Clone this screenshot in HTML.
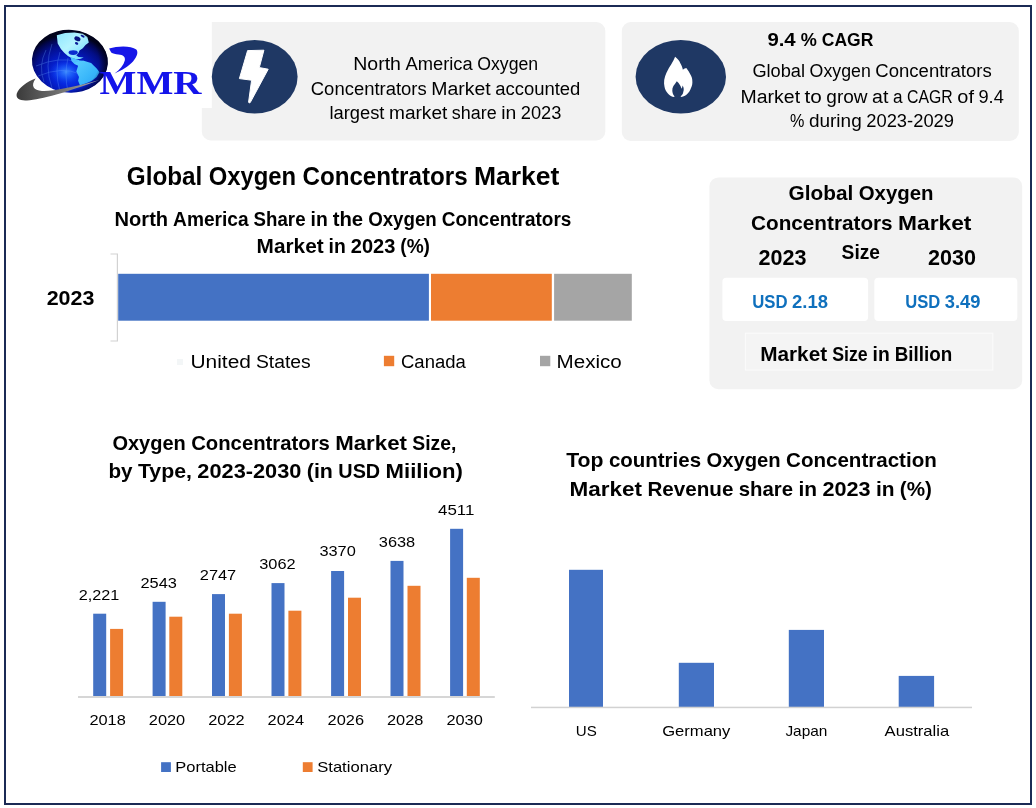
<!DOCTYPE html>
<html lang="en">
<head>
<meta charset="utf-8">
<title>Global Oxygen Concentrators Market</title>
<style>
  html, body { margin: 0; padding: 0; background: #ffffff; }
  body { width: 1036px; height: 808px; overflow: hidden; position: relative; }
  svg { position: absolute; left: 0; top: 0; display: block; }
  text { font-family: "Liberation Sans", sans-serif; fill: #000000; }
  .b { font-weight: bold; }
  .serif { font-family: "Liberation Serif", serif; font-weight: bold; }
</style>
</head>
<body>
<svg width="1036" height="808" viewBox="0 0 1036 808">
  <defs>
    <radialGradient id="globeG" cx="0.50" cy="0.68" r="0.60" fx="0.49" fy="0.72">
      <stop offset="0" stop-color="#0d48f2"/>
      <stop offset="0.28" stop-color="#0628e0"/>
      <stop offset="0.52" stop-color="#0418b8"/>
      <stop offset="0.75" stop-color="#030e88"/>
      <stop offset="0.9" stop-color="#020650"/>
      <stop offset="1" stop-color="#01031c"/>
    </radialGradient>
    <radialGradient id="glowG" cx="0.5" cy="0.5" r="0.5">
      <stop offset="0" stop-color="#3c8cff" stop-opacity="0.95"/>
      <stop offset="0.5" stop-color="#1c5cf8" stop-opacity="0.6"/>
      <stop offset="1" stop-color="#0a30e0" stop-opacity="0"/>
    </radialGradient>
    <radialGradient id="rimG" cx="0.40" cy="0.50" r="0.62">
      <stop offset="0" stop-color="#000010" stop-opacity="0"/>
      <stop offset="0.78" stop-color="#000010" stop-opacity="0"/>
      <stop offset="0.92" stop-color="#000018" stop-opacity="0.55"/>
      <stop offset="1" stop-color="#000010" stop-opacity="0.9"/>
    </radialGradient>
    <linearGradient id="landG2" x1="0" y1="0" x2="1" y2="1">
      <stop offset="0" stop-color="#5ccfff"/>
      <stop offset="0.6" stop-color="#38b6fa"/>
      <stop offset="1" stop-color="#2a9cf0"/>
    </linearGradient>
    <linearGradient id="landG" x1="0" y1="0" x2="1" y2="1">
      <stop offset="0" stop-color="#8fe6ff"/>
      <stop offset="0.45" stop-color="#b4f4ff"/>
      <stop offset="1" stop-color="#62d2ff"/>
    </linearGradient>
    <linearGradient id="swooshG" x1="0" y1="0" x2="1" y2="0">
      <stop offset="0" stop-color="#3a3a3a"/>
      <stop offset="0.45" stop-color="#6a6a6a"/>
      <stop offset="1" stop-color="#a8a8a8"/>
    </linearGradient>
    <clipPath id="globeClip"><ellipse cx="69.9" cy="61.3" rx="38" ry="31.4" transform="rotate(4 69.9 61.3)"/></clipPath>
  </defs>

  <!-- page background + frame -->
  <rect x="0" y="0" width="1036" height="808" fill="#ffffff"/>
  <rect x="5" y="6" width="1026" height="798" fill="none" stroke="#1b2a55" stroke-width="2"/>

  <!-- ===== top card 1 ===== -->
  <rect x="201.8" y="22" width="403.5" height="118.5" rx="9" ry="9" fill="#f2f2f2"/>
  <!-- logo white backing -->
  <rect x="8" y="10" width="203.8" height="98" fill="#ffffff"/>

  <!-- ===== logo ===== -->
  <g id="logo">
    <ellipse cx="69.9" cy="61.3" rx="38" ry="31.4" transform="rotate(4 69.9 61.3)" fill="url(#globeG)"/>
    <g clip-path="url(#globeClip)">
      <!-- glow -->
      <ellipse cx="66" cy="72" rx="17" ry="12" fill="url(#glowG)"/>
      <!-- north america -->
      <path d="M56.8 35.2 L65.1 32.9 L74.4 32.4 L82.8 33.8 L87.4 37.1 L88.8 42.6 L85.5 45 L82.8 48.2 L79.5 50.5 L78.6 52.8 L76.3 55.6 L78.6 57 L83.7 57.5 L80 58.9 L76.3 59.3 L71.6 57.9 L67.9 56.1 L64.2 52.8 L60.9 49.1 L57.7 43.6 Z" fill="url(#landG)"/>
      <!-- central america -->
      <path d="M70.5 57 L76.3 59.3 L80 60.5 L83.7 60.7 L78.5 63.6 L74.4 64 L71.5 61 Z" fill="#4cc4ff"/>
      <!-- south america -->
      <path d="M76.3 62.1 L83.7 60.7 L91.1 63.1 L96.7 68.6 L99.5 72.3 L96.7 77 L92 80.7 L87.4 82.8 L80 85.6 L78.1 80.7 L79 77 L76.3 71.4 L78.1 65.8 L74.4 64 Z" fill="url(#landG2)"/>
      <!-- dark lakes / bays -->
      <ellipse cx="73.2" cy="52.6" rx="4.6" ry="2.4" fill="#0a2cd0"/>
      <ellipse cx="77.4" cy="38.8" rx="3.2" ry="2.2" fill="#071480" transform="rotate(25 77.4 38.8)"/>
      <ellipse cx="76.6" cy="43.4" rx="1.8" ry="1.2" fill="#0a1c98" transform="rotate(30 76.6 43.4)"/>
      <ellipse cx="82.6" cy="36.2" rx="2.2" ry="1" fill="#0a1c98" transform="rotate(30 82.6 36.2)"/>
      <!-- grid lines -->
      <g fill="none" stroke="#6aa8ff" stroke-width="0.6" opacity="0.5">
        <path d="M36 66 Q60 56 78 62"/>
        <path d="M38 76 Q62 66 80 74"/>
        <path d="M52 44 Q44 66 52 88"/>
        <path d="M60 52 Q54 70 60 92"/>
        <path d="M68 58 Q64 74 68 92"/>
        <path d="M46 50 Q38 66 44 82"/>
      </g>
      <!-- dark rim on right -->
      <ellipse cx="69.9" cy="61.3" rx="38" ry="31.4" transform="rotate(4 69.9 61.3)" fill="url(#rimG)"/>
    </g>
    <!-- grey swoosh -->
    <path d="M35.6 78.6 C27 81.6 19 87.6 16.8 93.6 C15.4 98.6 20 101 27 100.5 C42 99.6 66 92.6 99.6 80.1 C72 87.6 52 91.6 42 91 C33.5 90.4 30.4 86 35.6 78.6 Z" fill="url(#swooshG)"/>
    <!-- blue swoosh -->
    <path d="M109.1 48.6 C118 45.6 131 45.4 136.3 49.6 C138.4 52 137.4 56.6 133 61.5 C128.5 66.3 121.5 70.8 114.6 73.4 C120 69.4 123.6 65.2 124.8 60.4 C125.6 56.6 123 54.8 118.5 54.4 C115.5 54.1 112.8 53.6 111.2 52.4 Z" fill="#1616e8"/>
    <text class="serif" x="99.6" y="94.3" font-size="32.8" textLength="102" lengthAdjust="spacingAndGlyphs" style="fill:#1414ea">MMR</text>
  </g>

  <!-- icon 1 : lightning -->
  <ellipse cx="254.7" cy="76.7" rx="42.9" ry="36.8" fill="#1f3864"/>
  <path d="M247.6 50.6 L263.9 50.2 L259.3 67.6 L268.2 69.2 L250.2 102.6 Q249 103.6 248.6 102 L251.6 80.2 L239.4 78.6 Z" fill="#ffffff" stroke="#ffffff" stroke-width="1" stroke-linejoin="round"/>

  <text y="69.8" font-size="17.6"><tspan x="353.20" textLength="47.73" lengthAdjust="spacingAndGlyphs">North</tspan> <tspan x="405.46" textLength="67.25" lengthAdjust="spacingAndGlyphs">America</tspan> <tspan x="477.24" textLength="60.96" lengthAdjust="spacingAndGlyphs">Oxygen</tspan></text>
  <text y="95" font-size="17.6"><tspan x="310.80" textLength="115.93" lengthAdjust="spacingAndGlyphs">Concentrators</tspan> <tspan x="431.25" textLength="59.42" lengthAdjust="spacingAndGlyphs">Market</tspan> <tspan x="495.19" textLength="85.21" lengthAdjust="spacingAndGlyphs">accounted</tspan></text>
  <text y="119.2" font-size="17.6"><tspan x="329.40" textLength="55.06" lengthAdjust="spacingAndGlyphs">largest</tspan> <tspan x="388.99" textLength="58.33" lengthAdjust="spacingAndGlyphs">market</tspan> <tspan x="451.83" textLength="44.86" lengthAdjust="spacingAndGlyphs">share</tspan> <tspan x="501.21" textLength="15.09" lengthAdjust="spacingAndGlyphs">in</tspan> <tspan x="520.82" textLength="40.58" lengthAdjust="spacingAndGlyphs">2023</tspan></text>

  <!-- ===== top card 2 ===== -->
  <rect x="621.8" y="22" width="397" height="119" rx="9" ry="9" fill="#f2f2f2"/>
  <ellipse cx="680.8" cy="76.7" rx="45.2" ry="36.8" fill="#1f3864"/>
  <!-- flame -->
  <path d="M675.1 56.8 C677.5 58.6 679.4 61 680.2 62.9 C681.6 65.2 682.5 67.6 682.9 69.7 C684 68.8 685.4 68.2 686.3 68 C688 70 689.4 72.2 690.4 74.5 C691.6 76.6 692.3 78.6 692.3 80.6 C692.6 83.4 692.2 86 691 88.1 C690 91 688.6 93 687 94.2 C685.4 95.6 683.6 96.5 681.5 96.9 L680.5 96.3 C682 95.2 683 93.8 683.2 92.2 C683.8 90.8 683.9 89.4 683.6 88.1 C683.4 87 683.1 86.1 682.6 85.4 C682.4 86.8 682 87.9 681.5 88.8 C681.2 87.5 680.8 86.4 680.2 85.4 C679.2 83.8 678 82.4 676.8 81.3 C675.8 83 674.4 84.6 673.4 86.1 C672.6 87.6 672.2 89.2 672.3 90.8 C672.4 93 673.2 95 674.7 96.6 L673.4 96.9 C671.4 96.4 669.4 95.2 667.9 93.5 C666.2 91.6 665 89.4 664.5 86.7 C664 84.4 663.9 82.2 664.2 79.9 C664.6 77.2 665.4 74.8 666.6 72.4 C668 69.4 669.8 66.8 671.3 64.3 C672.8 61.8 674.2 59.4 675.1 56.8 Z" fill="#ffffff"/>

  <text class="b" y="46.4" font-size="19"><tspan x="767.40" textLength="28.31" lengthAdjust="spacingAndGlyphs">9.4</tspan> <tspan x="800.70" textLength="16.11" lengthAdjust="spacingAndGlyphs">%</tspan> <tspan x="821.80" textLength="51.60" lengthAdjust="spacingAndGlyphs">CAGR</tspan></text>
  <text y="77.3" font-size="17.6"><tspan x="752.40" textLength="52.66" lengthAdjust="spacingAndGlyphs">Global</tspan> <tspan x="809.61" textLength="61.15" lengthAdjust="spacingAndGlyphs">Oxygen</tspan> <tspan x="875.30" textLength="116.50" lengthAdjust="spacingAndGlyphs">Concentrators</tspan></text>
  <text y="102.7" font-size="17.6"><tspan x="740.60" textLength="59.45" lengthAdjust="spacingAndGlyphs">Market</tspan> <tspan x="804.57" textLength="17.25" lengthAdjust="spacingAndGlyphs">to</tspan> <tspan x="826.34" textLength="41.26" lengthAdjust="spacingAndGlyphs">grow</tspan> <tspan x="872.12" textLength="16.29" lengthAdjust="spacingAndGlyphs">at</tspan> <tspan x="892.93" textLength="9.58" lengthAdjust="spacingAndGlyphs">a</tspan> <tspan x="907.04" textLength="45.74" lengthAdjust="spacingAndGlyphs">CAGR</tspan> <tspan x="957.30" textLength="16.65" lengthAdjust="spacingAndGlyphs">of</tspan> <tspan x="978.47" textLength="25.33" lengthAdjust="spacingAndGlyphs">9.4</tspan></text>
  <text y="126.6" font-size="17.6"><tspan x="790.00" textLength="14.38" lengthAdjust="spacingAndGlyphs">%</tspan> <tspan x="808.93" textLength="52.78" lengthAdjust="spacingAndGlyphs">during</tspan> <tspan x="866.26" textLength="87.74" lengthAdjust="spacingAndGlyphs">2023-2029</tspan></text>

  <!-- ===== main title ===== -->
  <text class="b" y="184.8" font-size="25"><tspan x="126.80" textLength="75.55" lengthAdjust="spacingAndGlyphs">Global</tspan> <tspan x="208.68" textLength="87.45" lengthAdjust="spacingAndGlyphs">Oxygen</tspan> <tspan x="302.46" textLength="165.13" lengthAdjust="spacingAndGlyphs">Concentrators</tspan> <tspan x="473.91" textLength="85.49" lengthAdjust="spacingAndGlyphs">Market</tspan></text>

  <!-- ===== stacked bar chart ===== -->
  <text class="b" y="226" font-size="20.3"><tspan x="114.60" textLength="53.55" lengthAdjust="spacingAndGlyphs">North</tspan> <tspan x="173.12" textLength="75.51" lengthAdjust="spacingAndGlyphs">America</tspan> <tspan x="253.60" textLength="51.93" lengthAdjust="spacingAndGlyphs">Share</tspan> <tspan x="310.50" textLength="17.21" lengthAdjust="spacingAndGlyphs">in</tspan> <tspan x="332.68" textLength="30.49" lengthAdjust="spacingAndGlyphs">the</tspan> <tspan x="368.14" textLength="68.66" lengthAdjust="spacingAndGlyphs">Oxygen</tspan> <tspan x="441.76" textLength="129.64" lengthAdjust="spacingAndGlyphs">Concentrators</tspan></text>
  <text class="b" y="253.2" font-size="20.3"><tspan x="256.60" textLength="67.05" lengthAdjust="spacingAndGlyphs">Market</tspan> <tspan x="328.62" textLength="17.20" lengthAdjust="spacingAndGlyphs">in</tspan> <tspan x="350.78" textLength="44.54" lengthAdjust="spacingAndGlyphs">2023</tspan> <tspan x="400.28" textLength="29.72" lengthAdjust="spacingAndGlyphs">(%)</tspan></text>

  <path d="M110.5 254 H117.4 V341 H110.5" fill="none" stroke="#d2d2d2" stroke-width="1.2"/>
  <rect x="118.2" y="273.8" width="310.7" height="46.9" fill="#4472c4"/>
  <rect x="431" y="273.8" width="120.8" height="46.9" fill="#ed7d31"/>
  <rect x="554.1" y="273.8" width="77.7" height="46.9" fill="#a5a5a5"/>
  <text class="b" x="46.7" y="304.5" font-size="21.1" textLength="47.7" lengthAdjust="spacingAndGlyphs">2023</text>

  <rect x="177" y="359" width="6" height="6" fill="#f3f6f7"/>
  <text y="367.8" font-size="18.8"><tspan x="190.50" textLength="60.44" lengthAdjust="spacingAndGlyphs">United</tspan> <tspan x="255.90" textLength="54.80" lengthAdjust="spacingAndGlyphs">States</tspan></text>
  <rect x="383.9" y="355.8" width="10.3" height="10.4" fill="#ed7d31"/>
  <text x="401" y="367.8" font-size="18.8" textLength="64.8" lengthAdjust="spacingAndGlyphs">Canada</text>
  <rect x="540" y="355.8" width="10.3" height="10.4" fill="#a5a5a5"/>
  <text x="556.6" y="367.8" font-size="18.8" textLength="65.2" lengthAdjust="spacingAndGlyphs">Mexico</text>

  <!-- ===== right panel ===== -->
  <rect x="709.4" y="177.4" width="312.8" height="211.8" rx="9" ry="9" fill="#f2f2f2"/>
  <text class="b" y="199.5" font-size="20.6"><tspan x="788.60" textLength="64.69" lengthAdjust="spacingAndGlyphs">Global</tspan> <tspan x="858.71" textLength="74.89" lengthAdjust="spacingAndGlyphs">Oxygen</tspan></text>
  <text class="b" y="229.6" font-size="20.6"><tspan x="751.00" textLength="141.64" lengthAdjust="spacingAndGlyphs">Concentrators</tspan> <tspan x="898.07" textLength="73.33" lengthAdjust="spacingAndGlyphs">Market</tspan></text>
  <text class="b" x="841.6" y="258.9" font-size="20.8" textLength="38.4" lengthAdjust="spacingAndGlyphs">Size</text>
  <text class="b" x="758.6" y="264.9" font-size="22.2" textLength="48" lengthAdjust="spacingAndGlyphs">2023</text>
  <text class="b" x="927.9" y="264.9" font-size="22.2" textLength="48" lengthAdjust="spacingAndGlyphs">2030</text>

  <rect x="722.4" y="277.7" width="145.7" height="43.3" rx="4" ry="4" fill="#ffffff"/>
  <rect x="874.3" y="277.7" width="143" height="43.3" rx="4" ry="4" fill="#ffffff"/>
  <text class="b" y="307.5" font-size="17.9" style="fill:#0f70bd"><tspan x="752.20" textLength="35.31" lengthAdjust="spacingAndGlyphs">USD</tspan> <tspan x="792.05" textLength="35.95" lengthAdjust="spacingAndGlyphs">2.18</tspan></text>
  <text class="b" y="307.5" font-size="17.9" style="fill:#0f70bd"><tspan x="905.20" textLength="35.03" lengthAdjust="spacingAndGlyphs">USD</tspan> <tspan x="944.73" textLength="35.67" lengthAdjust="spacingAndGlyphs">3.49</tspan></text>

  <rect x="745.4" y="333.2" width="247.4" height="36.8" fill="#f4f4f4" stroke="#fbfbfb" stroke-width="1"/>
  <text class="b" y="360.7" font-size="20"><tspan x="760.20" textLength="66.97" lengthAdjust="spacingAndGlyphs">Market</tspan> <tspan x="832.13" textLength="35.51" lengthAdjust="spacingAndGlyphs">Size</tspan> <tspan x="872.60" textLength="17.18" lengthAdjust="spacingAndGlyphs">in</tspan> <tspan x="894.73" textLength="57.47" lengthAdjust="spacingAndGlyphs">Billion</tspan></text>

  <!-- ===== bottom-left chart ===== -->
  <text class="b" y="449.9" font-size="20.6"><tspan x="112.40" textLength="73.44" lengthAdjust="spacingAndGlyphs">Oxygen</tspan> <tspan x="191.16" textLength="138.68" lengthAdjust="spacingAndGlyphs">Concentrators</tspan> <tspan x="335.15" textLength="71.80" lengthAdjust="spacingAndGlyphs">Market</tspan> <tspan x="412.26" textLength="44.14" lengthAdjust="spacingAndGlyphs">Size,</tspan></text>
  <text class="b" y="478.3" font-size="20.6"><tspan x="108.40" textLength="24.12" lengthAdjust="spacingAndGlyphs">by</tspan> <tspan x="137.91" textLength="54.07" lengthAdjust="spacingAndGlyphs">Type,</tspan> <tspan x="197.37" textLength="104.05" lengthAdjust="spacingAndGlyphs">2023-2030</tspan> <tspan x="306.81" textLength="26.12" lengthAdjust="spacingAndGlyphs">(in</tspan> <tspan x="338.32" textLength="41.89" lengthAdjust="spacingAndGlyphs">USD</tspan> <tspan x="385.60" textLength="77.40" lengthAdjust="spacingAndGlyphs">Miilion)</tspan></text>

  <g fill="#4472c4">
    <rect x="93.2" y="613.7" width="13" height="83"/>
    <rect x="152.6" y="601.8" width="13" height="94.9"/>
    <rect x="212" y="594.1" width="13" height="102.6"/>
    <rect x="271.5" y="583.1" width="13" height="113.6"/>
    <rect x="331.1" y="571" width="13" height="125.7"/>
    <rect x="390.5" y="560.9" width="13" height="135.8"/>
    <rect x="450.1" y="528.8" width="13" height="167.9"/>
  </g>
  <g fill="#ed7d31">
    <rect x="110.1" y="628.9" width="13" height="67.8"/>
    <rect x="169.3" y="616.7" width="13" height="80"/>
    <rect x="228.9" y="613.7" width="13" height="83"/>
    <rect x="288.4" y="610.7" width="13" height="86"/>
    <rect x="348" y="597.7" width="13" height="99"/>
    <rect x="407.5" y="585.8" width="13" height="110.9"/>
    <rect x="466.8" y="577.8" width="13" height="118.9"/>
  </g>
  <rect x="78" y="696" width="416.8" height="2" fill="#d6d6d6"/>

  <g font-size="15">
    <text x="78.8" y="600.4" textLength="40.6" lengthAdjust="spacingAndGlyphs">2,221</text>
    <text x="140.5" y="588.2" textLength="36.4" lengthAdjust="spacingAndGlyphs">2543</text>
    <text x="199.8" y="580.2" textLength="36.4" lengthAdjust="spacingAndGlyphs">2747</text>
    <text x="259.2" y="568.9" textLength="36.4" lengthAdjust="spacingAndGlyphs">3062</text>
    <text x="319.4" y="556.4" textLength="36.4" lengthAdjust="spacingAndGlyphs">3370</text>
    <text x="378.8" y="546.9" textLength="36.4" lengthAdjust="spacingAndGlyphs">3638</text>
    <text x="438" y="514.8" textLength="36.4" lengthAdjust="spacingAndGlyphs">4511</text>

    <text x="89.4" y="725" textLength="36.4" lengthAdjust="spacingAndGlyphs">2018</text>
    <text x="148.8" y="725" textLength="36.4" lengthAdjust="spacingAndGlyphs">2020</text>
    <text x="208.2" y="725" textLength="36.4" lengthAdjust="spacingAndGlyphs">2022</text>
    <text x="267.6" y="725" textLength="36.4" lengthAdjust="spacingAndGlyphs">2024</text>
    <text x="327.6" y="725" textLength="36.4" lengthAdjust="spacingAndGlyphs">2026</text>
    <text x="387" y="725" textLength="36.4" lengthAdjust="spacingAndGlyphs">2028</text>
    <text x="446.4" y="725" textLength="36.4" lengthAdjust="spacingAndGlyphs">2030</text>
  </g>

  <rect x="161.1" y="762.2" width="9.8" height="9.8" fill="#4472c4"/>
  <text x="175.3" y="771.6" font-size="15" textLength="61.4" lengthAdjust="spacingAndGlyphs">Portable</text>
  <rect x="302.8" y="762.2" width="9.8" height="9.8" fill="#ed7d31"/>
  <text x="317.2" y="771.6" font-size="15" textLength="74.8" lengthAdjust="spacingAndGlyphs">Stationary</text>

  <!-- ===== bottom-right chart ===== -->
  <text class="b" y="467" font-size="20.6"><tspan x="566.20" textLength="37.31" lengthAdjust="spacingAndGlyphs">Top</tspan> <tspan x="608.88" textLength="92.20" lengthAdjust="spacingAndGlyphs">countries</tspan> <tspan x="706.46" textLength="74.22" lengthAdjust="spacingAndGlyphs">Oxygen</tspan> <tspan x="786.04" textLength="150.76" lengthAdjust="spacingAndGlyphs">Concentraction</tspan></text>
  <text class="b" y="496.2" font-size="20.6"><tspan x="569.60" textLength="72.49" lengthAdjust="spacingAndGlyphs">Market</tspan> <tspan x="647.46" textLength="85.93" lengthAdjust="spacingAndGlyphs">Revenue</tspan> <tspan x="738.75" textLength="54.33" lengthAdjust="spacingAndGlyphs">share</tspan> <tspan x="798.44" textLength="18.59" lengthAdjust="spacingAndGlyphs">in</tspan> <tspan x="822.40" textLength="48.15" lengthAdjust="spacingAndGlyphs">2023</tspan> <tspan x="875.92" textLength="18.59" lengthAdjust="spacingAndGlyphs">in</tspan> <tspan x="899.87" textLength="32.13" lengthAdjust="spacingAndGlyphs">(%)</tspan></text>

  <g fill="#4472c4">
    <rect x="569" y="569.8" width="34" height="137.2"/>
    <rect x="678.8" y="662.8" width="35.2" height="44.2"/>
    <rect x="788.8" y="629.9" width="35.2" height="77.1"/>
    <rect x="898.7" y="675.9" width="35.4" height="31.1"/>
  </g>
  <rect x="531" y="706.7" width="441" height="1.5" fill="#d2d2d2"/>

  <g font-size="15">
    <text x="575.8" y="736.3" textLength="21" lengthAdjust="spacingAndGlyphs">US</text>
    <text x="662.2" y="736.3" textLength="68.2" lengthAdjust="spacingAndGlyphs">Germany</text>
    <text x="785.4" y="736.3" textLength="42" lengthAdjust="spacingAndGlyphs">Japan</text>
    <text x="884.6" y="736.3" textLength="64.6" lengthAdjust="spacingAndGlyphs">Australia</text>
  </g>
</svg>
</body>
</html>
